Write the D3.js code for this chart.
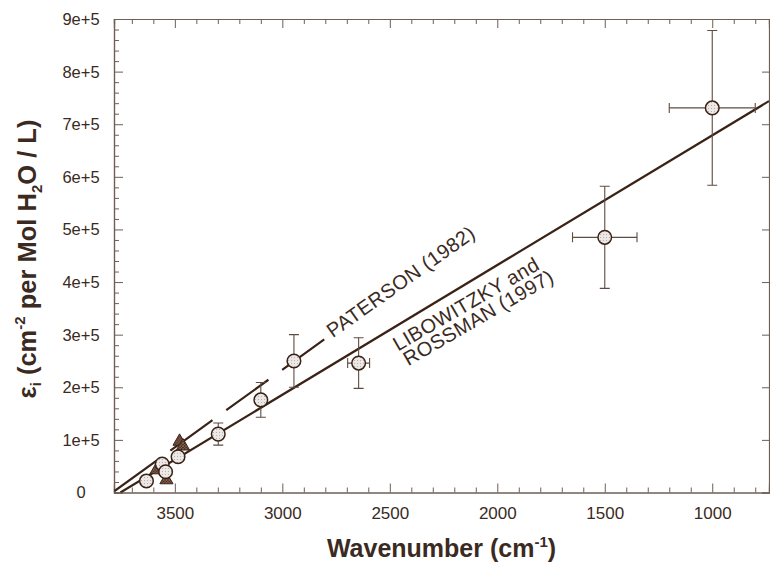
<!DOCTYPE html>
<html><head><meta charset="utf-8">
<script src="https://cdn.jsdelivr.net/npm/d3@7"></script>
<style>body{margin:0;background:#fff}svg{display:block}text{font-family:"Liberation Sans",Arial,Helvetica,sans-serif}</style>
</head><body><svg id="c" width="770" height="565"></svg>
<script>
// ---- data ----
const circleNu   = [3632, 3559, 3543, 3485, 3298, 3100, 2946, 2645, 1500, 1000];
const circleEps  = [22000, 54000, 39500, 68000, 111000, 176000, 250000, 246000, 485000, 731000];
const circleYErr = [0, 0, 0, 0, 21000, 33000, 50000, 48000, 97000, 147000];
const circleXErr = [0, 0, 0, 0, 0, 0, 0, 51, 150, 200];
const triNu      = [3585, 3539, 3478, 3462];
const triEps     = [42800, 23800, 97000, 88000];
const libLineNu  = [3753, 736];
const libLineEps = [0, 744000];
const patLineNu  = [3781, 2805];
const patLineEps = [2700, 291000];
const xTickVals  = [3500, 3000, 2500, 2000, 1500, 1000];
const xTickLabels= ["3500", "3000", "2500", "2000", "1500", "1000"];
const yTickVals  = [0, 100000, 200000, 300000, 400000, 500000, 600000, 700000, 800000, 900000];
const yTickLabels= ["0", "1e+5", "2e+5", "3e+5", "4e+5", "5e+5", "6e+5", "7e+5", "8e+5", "9e+5"];

// ---- setup ----
const svg = d3.select("#c");
const L = 114, R = 769, T = 19, B = 492.5;
const x = d3.scaleLinear().domain([3783, 736]).range([L, R]);
const y = d3.scaleLinear().domain([0, 900000]).range([B, T]);
const frameCol = "#6e5e55", lineCol = "#3a2216", textCol = "#3a2a22";

const defs = svg.append("defs");
defs.append("clipPath").attr("id", "pc").append("rect")
  .attr("x", L).attr("y", T).attr("width", R - L).attr("height", B - T);
const pat = defs.append("pattern").attr("id", "hatch").attr("patternUnits", "userSpaceOnUse")
  .attr("width", 3).attr("height", 3);
pat.append("rect").attr("width", 3).attr("height", 3).attr("fill", "#4a2c1c");
pat.append("path").attr("d", "M0,0L3,3M3,0L0,3").attr("stroke", "#a08070").attr("stroke-width", 0.6);
const dots = defs.append("pattern").attr("id", "dots").attr("patternUnits", "userSpaceOnUse")
  .attr("width", 3).attr("height", 3);
dots.append("rect").attr("width", 3).attr("height", 3).attr("fill", "#ece8e6");
dots.append("rect").attr("width", 1).attr("height", 1).attr("fill", "#b8b0ac");

// ---- axes ----
const minorX = d3.range(3700, 700, -100).filter(v => !xTickVals.includes(v));
const minorY = d3.range(20000, 900000, 20000).filter(v => !yTickVals.includes(v));

const axB = d3.axisBottom(x).tickValues(xTickVals).tickFormat((d, i) => xTickLabels[i]).tickSize(-9).tickPadding(14);
const axBm = d3.axisBottom(x).tickValues(minorX).tickFormat("").tickSize(-5);
const axT = d3.axisTop(x).tickValues(xTickVals).tickFormat("").tickSize(-9);
const axTm = d3.axisTop(x).tickValues(minorX).tickFormat("").tickSize(-5);
const axL = d3.axisLeft(y).tickValues(yTickVals).tickFormat("").tickSize(-9);
const axLm = d3.axisLeft(y).tickValues(minorY).tickFormat("").tickSize(-5);
const axR = d3.axisRight(y).tickValues(yTickVals).tickFormat("").tickSize(-7);

function styleAx(g) {
  g.selectAll(".domain").attr("stroke", frameCol).attr("stroke-width", 1.2);
  g.selectAll(".tick line").attr("stroke", frameCol).attr("stroke-width", 1);
  g.selectAll(".tick text").attr("fill", textCol).attr("font-size", 17).attr("font-family", '"Liberation Sans",Arial,sans-serif');
}
svg.append("g").attr("transform", `translate(0,${B})`).call(axB).call(styleAx);
svg.append("g").attr("transform", `translate(0,${B})`).call(axBm).call(styleAx);
svg.append("g").attr("transform", `translate(0,${T})`).call(axT).call(styleAx);
svg.append("g").attr("transform", `translate(0,${T})`).call(axTm).call(styleAx);
svg.append("g").attr("transform", `translate(${L},0)`).call(axL).call(styleAx);
svg.append("g").attr("transform", `translate(${L},0)`).call(axLm).call(styleAx);
svg.append("g").attr("transform", `translate(${R},0)`).call(axR).call(styleAx);

// y tick labels (centered)
svg.append("g").selectAll("text").data(yTickVals).join("text")
  .attr("x", 81).attr("y", d => y(d)).attr("dy", "0.36em")
  .attr("text-anchor", "middle").attr("font-size", 16.5).attr("fill", textCol)
  .text((d, i) => yTickLabels[i]);

// ---- lines ----
const plot = svg.append("g").attr("clip-path", "url(#pc)");
const line = d3.line().x(d => x(d[0])).y(d => y(d[1]));
plot.append("path").datum(libLineNu.map((v, i) => [v, libLineEps[i]]))
  .attr("d", line).attr("fill", "none").attr("stroke", lineCol).attr("stroke-width", 2.2);
plot.append("path").datum(patLineNu.map((v, i) => [v, patLineEps[i]]))
  .attr("d", line).attr("fill", "none").attr("stroke", lineCol).attr("stroke-width", 2.2)
  .attr("stroke-dasharray", "52,17");

// ---- error bars ----
const eb = plot.append("g").attr("stroke", "#5e4c42").attr("stroke-width", 1.1);
circleNu.forEach((nu, i) => {
  const cx = x(nu), cy = y(circleEps[i]);
  if (circleYErr[i] > 0) {
    const y1 = y(circleEps[i] + circleYErr[i]), y2 = y(circleEps[i] - circleYErr[i]);
    eb.append("line").attr("x1", cx).attr("x2", cx).attr("y1", y1).attr("y2", y2);
    eb.append("line").attr("x1", cx - 5).attr("x2", cx + 5).attr("y1", y1).attr("y2", y1);
    eb.append("line").attr("x1", cx - 5).attr("x2", cx + 5).attr("y1", y2).attr("y2", y2);
  }
  if (circleXErr[i] > 0) {
    const x1 = x(nu + circleXErr[i]), x2 = x(nu - circleXErr[i]);
    eb.append("line").attr("x1", x1).attr("x2", x2).attr("y1", cy).attr("y2", cy);
    eb.append("line").attr("x1", x1).attr("x2", x1).attr("y1", cy - 5).attr("y2", cy + 5);
    eb.append("line").attr("x1", x2).attr("x2", x2).attr("y1", cy - 5).attr("y2", cy + 5);
  }
});

// ---- markers ----
const tri = d3.symbol().type(d3.symbolTriangle).size(75);
plot.append("g").selectAll("path").data(triNu).join("path")
  .attr("transform", (d, i) => `translate(${x(d)},${y(triEps[i])})`)
  .attr("d", tri).attr("fill", "url(#hatch)").attr("stroke", "#3a2216").attr("stroke-width", 1);
plot.append("g").selectAll("circle").data(circleNu).join("circle")
  .attr("cx", d => x(d)).attr("cy", (d, i) => y(circleEps[i])).attr("r", 6.8)
  .attr("fill", "url(#dots)").attr("stroke", lineCol).attr("stroke-width", 1.5);

// ---- annotations ----
function ang(nus, eps) {
  const dx = x(nus[1]) - x(nus[0]), dy = y(eps[1]) - y(eps[0]);
  return Math.atan2(dy, dx) * 180 / Math.PI;
}
const aPat = ang(patLineNu, patLineEps) + 0.5;
const aLib = ang(libLineNu, libLineEps) + 1;
svg.append("text").attr("transform", `translate(${x(2765)},${y(293000)}) rotate(${aPat})`)
  .attr("font-size", 20).attr("letter-spacing", 0.4).attr("fill", textCol).text("PATERSON (1982)");
svg.append("text").attr("transform", `translate(${x(2462)},${y(268000)}) rotate(${aLib})`)
  .attr("font-size", 20).attr("letter-spacing", 0.4).attr("fill", textCol).text("LIBOWITZKY and");
svg.append("text").attr("transform", `translate(${x(2414)},${y(240000)}) rotate(${aLib})`)
  .attr("font-size", 20).attr("letter-spacing", 0.4).attr("fill", textCol).text("ROSSMAN (1997)");

// ---- axis titles ----
const xt = svg.append("text").attr("x", (L + R) / 2).attr("y", 557).attr("text-anchor", "middle")
  .attr("font-size", 25).attr("font-weight", "bold").attr("fill", textCol);
xt.append("tspan").text("Wavenumber (cm");
xt.append("tspan").attr("font-size", 15).attr("dy", -10).text("-1");
xt.append("tspan").attr("dy", 10).text(")");

const yt = svg.append("text").attr("transform", "translate(36,259) rotate(-90)").attr("text-anchor", "middle")
  .attr("font-size", 25.5).attr("font-weight", "bold").attr("fill", textCol);
yt.append("tspan").text("ε");
yt.append("tspan").attr("font-size", 15).attr("dy", 5).text("i");
yt.append("tspan").attr("dy", -5).text(" (cm");
yt.append("tspan").attr("font-size", 15).attr("dy", -11).text("-2");
yt.append("tspan").attr("dy", 11).text(" per Mol H");
yt.append("tspan").attr("font-size", 15).attr("dy", 6).text("2");
yt.append("tspan").attr("dy", -6).text("O / L)");
</script></body></html>
